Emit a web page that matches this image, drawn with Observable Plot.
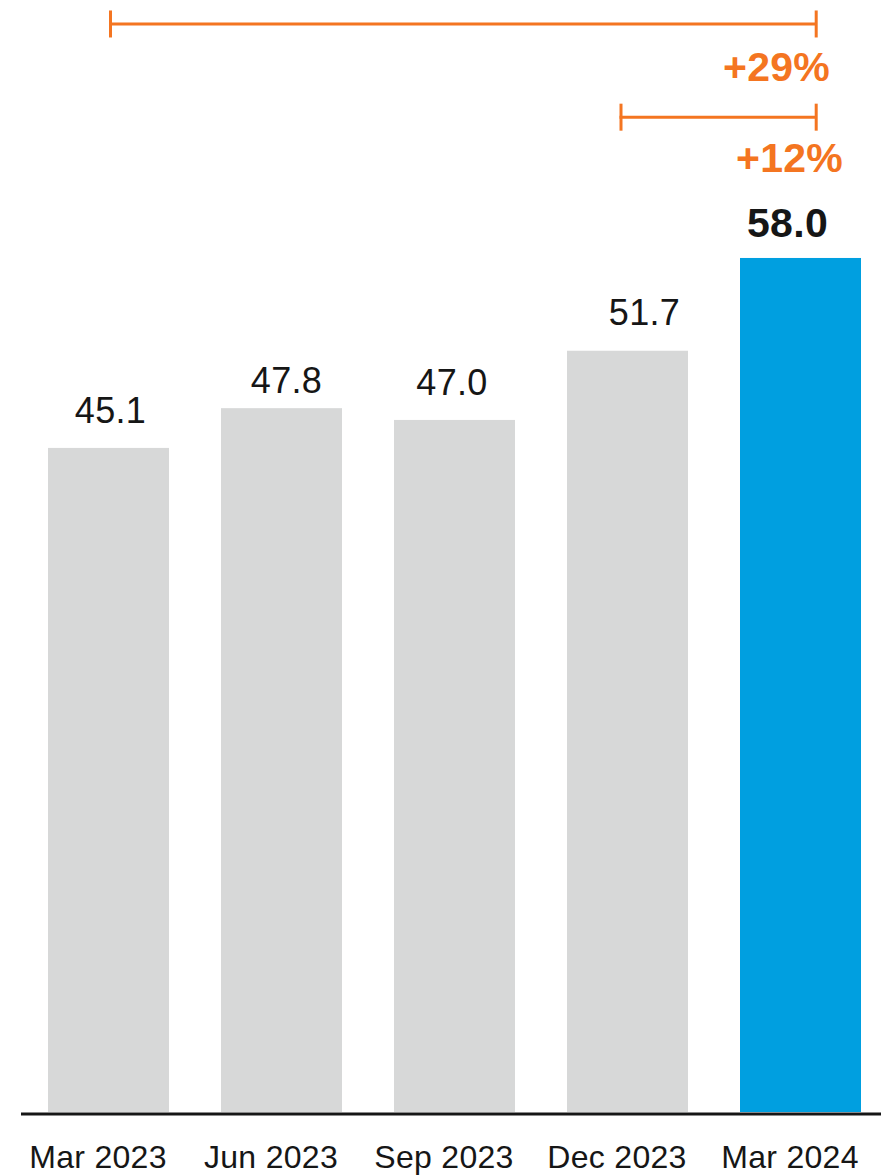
<!DOCTYPE html>
<html>
<head>
<meta charset="utf-8">
<script src="https://cdn.jsdelivr.net/npm/d3@7"></script>
<script src="https://cdn.jsdelivr.net/npm/@observablehq/plot@0.6"></script>
<style>
  html, body { margin: 0; padding: 0; background: #fff; }
  #chart svg { display: block; }
</style>
</head>
<body>
<div id="chart"></div>
<script>
// ---- data ----
const periods = ["Mar 2023", "Jun 2023", "Sep 2023", "Dec 2023", "Mar 2024"];
const values = [45.1, 47.8, 47.0, 51.7, 58.0];
const highlightPeriod = "Mar 2024";
const bracketFrom = ["Mar 2023", "Dec 2023"];
const bracketTo = ["Mar 2024", "Mar 2024"];
const bracketLabels = ["+29%", "+12%"];

// ---- tables built from the arrays ----
const data = periods.map((p, i) => ({period: p, value: values[i]}));
const valueOf = new Map(data.map(d => [d.period, d.value]));
const brackets = bracketLabels.map((l, i) => ({from: bracketFrom[i], to: bracketTo[i], label: l}));

// ---- styles ----
const GRAY = "#d7d8d8", BLUE = "#009fe0", ORANGE = "#f47521", INK = "#161616";
const FONT = "Liberation Sans, Arial, sans-serif";
const labelStyle = [
  {dx: 1.5, dy: -25}, {dx: 4.5, dy: -15.5}, {dx: -3, dy: -25}, {dx: 16.5, dy: -26}, {dx: -13.5, dy: -21}
];
const bracketStyle = [
  {lineDy: -234.5, insetLeft: 61, insetRight: 44, fromDx: 1.5, toDx: 15.2, textDx: -24.5, textDy: -177},
  {lineDy: -141.3, insetLeft: 52.5, insetRight: 44, fromDx: -7, toDx: 15.2, textDx: -11.5, textDy: -86}
];
const vtick = {draw(ctx) { ctx.moveTo(0, -13.5); ctx.lineTo(0, 13.5); }};

const marks = [
  Plot.barY(data.filter(d => d.period !== highlightPeriod), {x: "period", y: "value", fill: GRAY}),
  Plot.barY(data.filter(d => d.period === highlightPeriod), {x: "period", y: "value", fill: BLUE}),
  Plot.ruleY([0], {stroke: INK, strokeWidth: 3, dy: 1.5}),
  Plot.axisX({tickSize: 0, tickPadding: 33, fontSize: 32, dx: -11, fill: INK, label: null})
];

data.forEach((d, i) => {
  const hi = d.period === highlightPeriod;
  marks.push(Plot.text([d], {
    x: "period", y: "value", text: v => v.value.toFixed(1),
    dx: labelStyle[i].dx, dy: labelStyle[i].dy, lineAnchor: "bottom",
    fontSize: hi ? 41 : 36, fontWeight: hi ? "bold" : "normal", fill: INK,
    letterSpacing: hi ? "0.5px" : "-0.8px"
  }));
});

brackets.forEach((b, i) => {
  const s = bracketStyle[i];
  const yv = d => valueOf.get(d.to);
  marks.push(
    Plot.ruleY([b], {x1: "from", x2: "to", y: yv, dy: s.lineDy, insetLeft: s.insetLeft, insetRight: s.insetRight, stroke: ORANGE, strokeWidth: 3}),
    Plot.dot([b], {x: "from", y: yv, dx: s.fromDx, dy: s.lineDy, symbol: vtick, stroke: ORANGE, strokeWidth: 3, fill: "none", r: 5}),
    Plot.dot([b], {x: "to", y: yv, dx: s.toDx, dy: s.lineDy, symbol: vtick, stroke: ORANGE, strokeWidth: 3, fill: "none", r: 5}),
    Plot.text([b], {x: "to", y: yv, text: "label", dx: s.textDx, dy: s.textDy, lineAnchor: "bottom", fontSize: 41, fontWeight: "bold", fill: ORANGE, letterSpacing: "0.5px"})
  );
});

const chart = Plot.plot({
  width: 881,
  height: 1176,
  marginTop: 0,
  marginBottom: 64,
  marginLeft: 21,
  marginRight: 0,
  style: {fontFamily: FONT, background: "#fff", overflow: "visible", letterSpacing: "0.3px"},
  x: {domain: periods, range: [47, 862], paddingInner: 0.3026, paddingOuter: 0, axis: null},
  y: {domain: [0, 75.52], axis: null},
  marks
});
document.getElementById("chart").append(chart);
</script>
</body>
</html>
